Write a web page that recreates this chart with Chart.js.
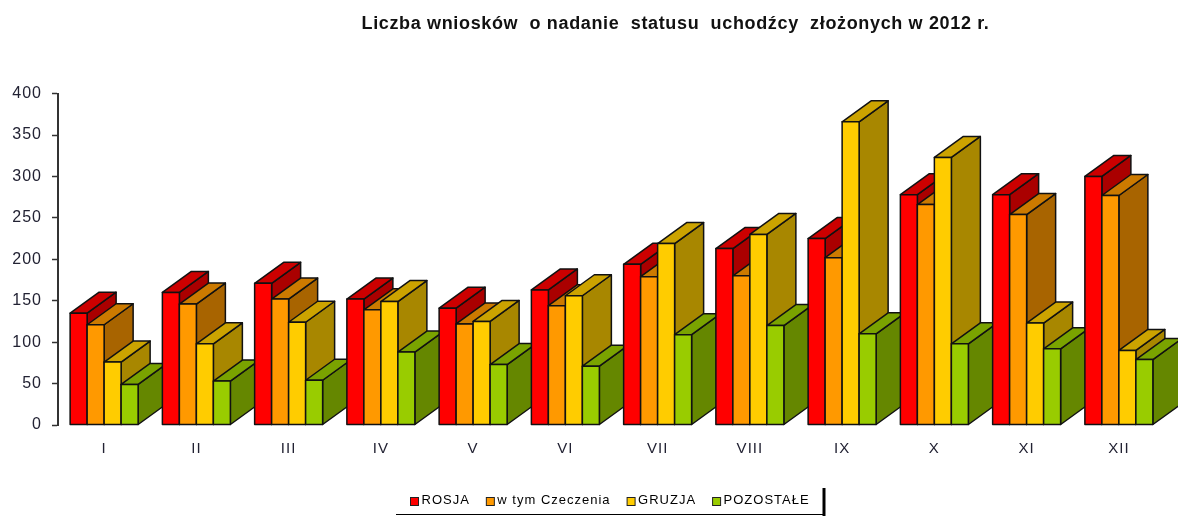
<!DOCTYPE html>
<html lang="pl">
<head>
<meta charset="utf-8">
<title>Liczba wniosków</title>
<script src="https://cdn.jsdelivr.net/npm/chart.js@4"></script>
<style>
html,body{margin:0;padding:0;background:#fff}
canvas{display:block;filter:blur(0.35px)}
</style>
</head>
<body>
<canvas id="c" width="1178" height="516"></canvas>
<script>
const titleText = 'Liczba wniosków  o nadanie  statusu  uchodźcy  złożonych w 2012 r.';
const months = ['I','II','III','IV','V','VI','VII','VIII','IX','X','XI','XII'];
const rosja     = [135,160,171,152,141,163,194,213,225,278,278,300];
const czeczenia = [121,146,152,139,122,144,179,180,202,266,254,277];
const gruzja    = [ 76, 98,124,149,125,156,219,230,366,323,123, 90];
const pozostale = [ 49, 53, 54, 88, 73, 71,109,120,110, 98, 92, 79];
const seriesNames = ['ROSJA','w tym Czeczenia','GRUZJA','POZOSTAŁE'];
const frontColors = ['#FF0000','#FF9900','#FFCC00','#99CC00'];
const topColors   = ['#CC0000','#CC7A00','#CCA300','#7AA300'];
const sideColors  = ['#AA0000','#A86400','#A88700','#658700'];
const seriesValues = [rosja,czeczenia,gruzja,pozostale];
const DX = 29, DY = 21, EDGE = '#111';
const FONT = '"Liberation Sans",Arial,sans-serif';

function poly(ctx, pts, fill){
  ctx.beginPath();
  pts.forEach((p,i)=> i ? ctx.lineTo(p[0],p[1]) : ctx.moveTo(p[0],p[1]));
  ctx.closePath();
  ctx.fillStyle = fill; ctx.fill(); ctx.stroke();
}
const spacing = {
  id:'spacing',
  beforeLayout(c){ c.ctx.letterSpacing='1px'; },
  beforeDraw(c){ c.ctx.letterSpacing='1px'; }
};
const shift = {
  id:'shift',
  afterLayout(c){
    const t = c.titleBlock;
    t.left += 93; t.right += 93;
    if(!t._wrapped){
      const d = t.draw;
      t.draw = function(a){ this.ctx.letterSpacing='0.65px'; d.call(this,a); this.ctx.letterSpacing='1px'; };
      t._wrapped = true;
    }
    const l = c.legend;
    l.left = 394; l.right = 1100; l.top += 1; l.bottom += 1;
  }
};
const bars3d = {
  id:'bars3d',
  afterDatasetsDraw(c){
    const ctx = c.ctx;
    ctx.save();
    ctx.lineWidth = 1.5; ctx.strokeStyle = EDGE; ctx.lineJoin='round';
    months.forEach((m,i)=>{
      seriesValues.forEach((v,s)=>{
        const el = c.getDatasetMeta(s).data[i];
        const l = el.x-el.width/2, r = el.x+el.width/2, t = el.y, b = el.base;
        poly(ctx,[[r,b],[r+DX,b-DY],[r+DX,t-DY],[r,t]],sideColors[s]);
        poly(ctx,[[l,t],[l+DX,t-DY],[r+DX,t-DY],[r,t]],topColors[s]);
        poly(ctx,[[l,b],[l,t],[r,t],[r,b]],frontColors[s]);
      });
    });
    ctx.restore();
  },
  afterDraw(c){
    const ctx = c.ctx, l = c.legend;
    ctx.save();
    ctx.strokeStyle = '#222'; ctx.lineWidth = 1;
    l.legendHitBoxes.forEach((b,s)=>{
      const y = Math.round(b.top + (b.height-8)/2);
      ctx.fillStyle = frontColors[s];
      ctx.fillRect(b.left+.5,y+.5,8,8);
      ctx.strokeRect(b.left+.5,y+.5,8,8);
    });
    ctx.strokeStyle='#000';
    ctx.lineWidth=1; ctx.beginPath(); ctx.moveTo(396,514.5); ctx.lineTo(825,514.5); ctx.stroke();
    ctx.lineWidth=3; ctx.beginPath(); ctx.moveTo(824,488); ctx.lineTo(824,516); ctx.stroke();
    ctx.restore();
  }
};
new Chart(document.getElementById('c'),{
  type:'bar',
  data:{
    labels:months,
    datasets:seriesValues.map((v,s)=>({
      label:seriesNames[s], data:v,
      backgroundColor:frontColors[s],
      barPercentage:1, categoryPercentage:0.737
    }))
  },
  options:{
    responsive:false, animation:false,
    layout:{padding:{left:0,right:13,top:0,bottom:0}},
    plugins:{
      tooltip:{enabled:false},
      title:{display:true,text:titleText,color:'#111',
        font:{family:FONT,size:18,weight:'bold'},
        padding:{top:13,bottom:59}},
      legend:{position:'bottom',align:'start',
        labels:{color:'#223',boxWidth:5,boxHeight:8,padding:16,
          font:{family:FONT,size:13},
          generateLabels:()=>seriesNames.map((t,i)=>({text:t,fillStyle:'transparent',strokeStyle:'transparent',lineWidth:0,datasetIndex:i}))}}
    },
    scales:{
      x:{
        grid:{display:false},border:{display:false},
        afterFit(s){ s.height += 12; },
        ticks:{color:'#223',padding:7,font:{family:FONT,size:15},autoSkip:false,maxRotation:0}
      },
      y:{
        min:0,max:400,
        afterFit(s){ s.width=58; },
        border:{display:true,color:'#333',width:2},
        grid:{drawOnChartArea:false,drawTicks:true,tickLength:6,tickColor:'#333',tickWidth:1.5},
        ticks:{stepSize:50,color:'#223',padding:10,font:{family:FONT,size:16}}
      }
    }
  },
  plugins:[spacing,shift,bars3d]
});
</script>
</body>
</html>
